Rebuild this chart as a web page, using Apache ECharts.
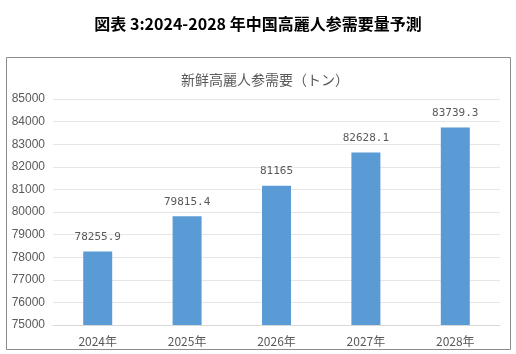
<!DOCTYPE html>
<html><head><meta charset="utf-8">
<script src="https://cdn.jsdelivr.net/npm/echarts@6/dist/echarts.min.js"></script>
<style>html,body{margin:0;padding:0;background:#fff}#c{width:516px;height:354px}</style>
</head><body><div id="c"></div>
<script>
const categories = ['2024年','2025年','2026年','2027年','2028年'];
const demand = [78255.9, 79815.4, 81165, 82628.1, 83739.3];
const demandLabels = ['78255.9','79815.4','81165','82628.1','83739.3'];
const yTicks = [75000,76000,77000,78000,79000,80000,81000,82000,83000,84000,85000];

const chart = echarts.init(document.getElementById('c'), null, {renderer:'canvas'});
chart.setOption({
  animation:false,
  backgroundColor:'#fff',
  title:[{
    text:'図表 3:2024-2028 年中国高麗人参需要量予測',
    left:253, top:11, textAlign:'center',
    textStyle:{fontFamily:'Noto Sans CJK JP',fontSize:16,fontWeight:'bold',color:'#000'}
  },{
    text:'新鲜高麗人参需要（トン）',
    left:260, top:68, textAlign:'center',
    textStyle:{fontFamily:'Noto Sans CJK SC',fontSize:14,fontWeight:'normal',color:'#595959'}
  }],
  graphic:[{type:'rect',shape:{x:6.5,y:57.5,width:504,height:292},style:{fill:'none',stroke:'#8c8c8c',lineWidth:1},silent:true}],
  grid:{left:53,right:16,top:99,bottom:29,containLabel:false},
  xAxis:{type:'category',data:categories,
    axisLine:{show:true,lineStyle:{color:'#d9d9d9'}},axisTick:{show:false},
    axisLabel:{color:'#595959',fontSize:12,fontFamily:'Noto Sans CJK SC',margin:10}},
  yAxis:{type:'value',min:yTicks[0],max:yTicks[yTicks.length-1],interval:1000,
    axisLine:{show:false},axisTick:{show:false},
    splitLine:{lineStyle:{color:'#e6e6e6'}},
    axisLabel:{color:'#595959',fontSize:12,fontFamily:'Liberation Sans',margin:8,formatter:v=>String(v)}},
  series:[{type:'bar',data:demand,barWidth:29,
    itemStyle:{color:'#5b9bd5'},
    label:{show:true,position:'top',distance:9,color:'#595959',fontSize:11,fontFamily:'DejaVu Sans Mono',
      formatter:p=>demandLabels[p.dataIndex]}}]
});
</script></body></html>
